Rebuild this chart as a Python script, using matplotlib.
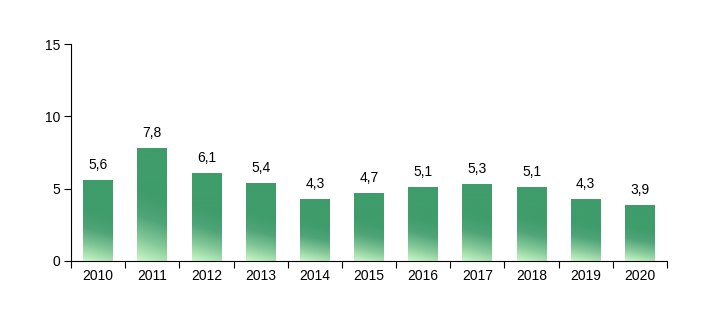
import matplotlib
matplotlib.use("Agg")
import matplotlib.pyplot as plt
import numpy as np
from matplotlib.colors import LinearSegmentedColormap
from matplotlib.patches import Rectangle

years = ["2010", "2011", "2012", "2013", "2014", "2015", "2016", "2017", "2018", "2019", "2020"]
values = [5.6, 7.8, 6.1, 5.4, 4.3, 4.7, 5.1, 5.3, 5.1, 4.3, 3.9]
labels = ["5,6", "7,8", "6,1", "5,4", "4,3", "4,7", "5,1", "5,3", "5,1", "4,3", "3,9"]

plt.rcParams['font.family'] = ['Liberation Sans', 'DejaVu Sans']

fig = plt.figure(figsize=(7.21, 3.30), dpi=100)
ax = fig.add_axes([71/721, 69/330, 596/721, 217/330])

cmap = LinearSegmentedColormap.from_list("g", ["#cbf8c9", "#86c99a", "#4fa578", "#3f9c6b"])
w = 0.55
x = np.arange(len(years))
# gradient image: bottom light -> top dark, slight diagonal
gy, gx = np.mgrid[0:1:200j, 0:1:50j]
grad = np.clip((gy + 0.1 * gx) / 0.62, 0, 1)

for xi, v, lab in zip(x, values, labels):
    ext = (xi - w/2, xi + w/2, 0, v)
    im = ax.imshow(grad, cmap=cmap, extent=ext, origin="lower", aspect="auto", vmin=0, vmax=1, zorder=2)
    r = Rectangle((xi - w/2, 0), w, v, transform=ax.transData, facecolor="none", edgecolor="none")
    ax.add_patch(r)
    im.set_clip_path(r)
    ax.text(xi, v + 0.55, lab, ha="center", va="bottom", fontsize=10, color="#000000")

ax.set_xlim(-0.5, len(years) - 0.5)
ax.set_ylim(0, 15)
ax.set_yticks([0, 5, 10, 15])
ax.set_yticklabels(["0", "5", "10", "15"])
ax.set_xticks(x)
ax.set_xticklabels(years)
ax.set_xticks(np.arange(-0.5, len(years)), minor=True)
ax.tick_params(axis="x", which="major", length=0, pad=6, labelsize=10)
ax.tick_params(axis="x", which="minor", length=5, direction="out", width=0.8)
ax.tick_params(axis="y", length=5, direction="out", width=0.8, labelsize=10, pad=3)
ax.spines["top"].set_visible(False)
ax.spines["right"].set_visible(False)
ax.spines["left"].set_linewidth(0.8)
ax.spines["bottom"].set_linewidth(0.8)

fig.savefig("out.png", dpi=100)
